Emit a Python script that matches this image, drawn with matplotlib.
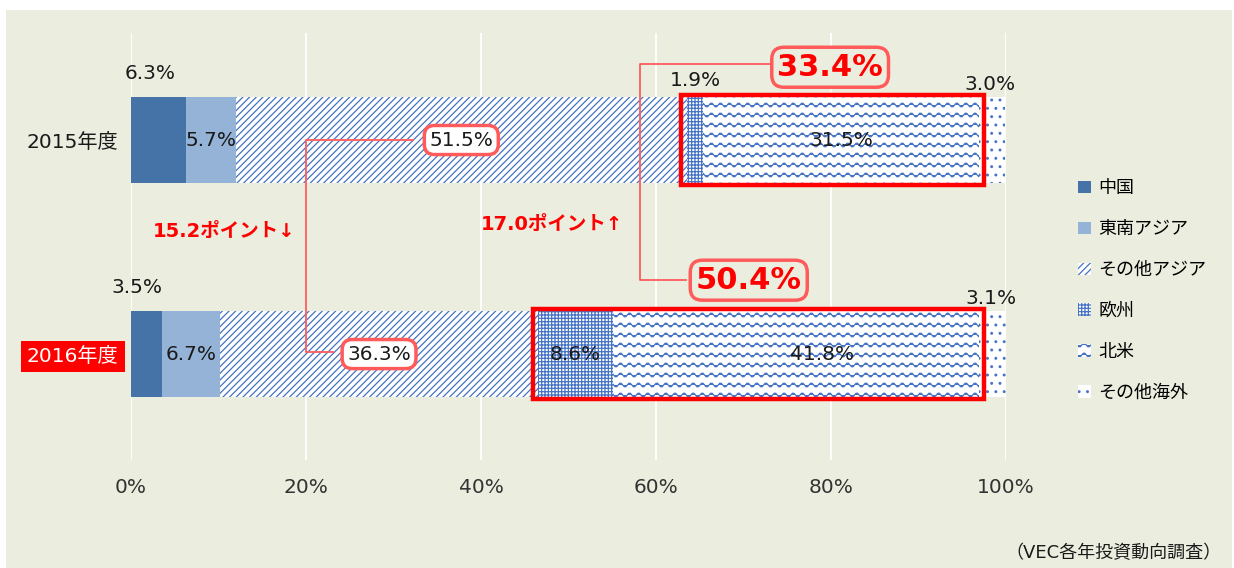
import warnings
import numpy as np
import matplotlib
matplotlib.use('Agg')
import matplotlib.pyplot as plt
import matplotlib.hatch as mhatch
from matplotlib.path import Path
from matplotlib.patches import Rectangle

warnings.filterwarnings('ignore')

regions = ['中国', '東南アジア', 'その他アジア', '欧州', '北米', 'その他海外']
years = ['2015年度', '2016年度']
share_2015 = [6.3, 5.7, 51.5, 1.9, 31.5, 3.0]
share_2016 = [3.5, 6.7, 36.3, 8.6, 41.8, 3.1]
diff_asia = '15.2ポイント↓'
diff_west = '17.0ポイント↑'
total_2015 = '33.4%'
total_2016 = '50.4%'
xticks = [0, 20, 40, 60, 80, 100]


# wavy hatch for 北米 ('~')
class WaveHatch(mhatch.HatchPatternBase):
    def __init__(self, hatch, density):
        self.num_lines = hatch.count('~') * 10
        self.npts = 67
        self.num_vertices = self.num_lines * self.npts

    def set_vertices_and_codes(self, vertices, codes):
        xs = np.linspace(0, 1, self.npts)
        for i in range(self.num_lines):
            s = slice(i * self.npts, (i + 1) * self.npts)
            vertices[s, 0] = xs
            vertices[s, 1] = (i + 0.5) / self.num_lines + 0.02 * np.sin(2 * np.pi * 11 * xs)
            codes[s] = Path.LINETO
            codes[i * self.npts] = Path.MOVETO


mhatch._hatch_types.append(WaveHatch)

plt.rcParams['font.family'] = ['DejaVu Sans', 'Noto Sans CJK JP']
plt.rcParams['hatch.linewidth'] = 0.9
plt.rcParams['hatch.color'] = '#4472C4'

bg = '#EBEEDF'
red = '#FF0000'
pink = '#FF5B5B'
colors = ['#4572A7', '#95B3D7', 'white', 'white', 'white', 'white']
hatches = [None, None, '/////', '+++++', '~', '..']

fig = plt.figure(figsize=(12.34, 5.68), dpi=100)
fig.patches.append(Rectangle((6 / 1234, 0), 1226 / 1234, 1 - 10 / 568,
                             transform=fig.transFigure, fc=bg, ec='none', zorder=-10))
ax = fig.add_axes([131 / 1234, 1 - 460 / 568, 875 / 1234, 427 / 568])
ax.set_facecolor('none')

ypos = np.arange(len(years))
data = np.array([share_2015, share_2016])
left = np.zeros(len(years))
for i, name in enumerate(regions):
    ax.barh(ypos, data[:, i], left=left, height=0.40, color=colors[i],
            hatch=hatches[i], edgecolor='#4472C4', linewidth=0, label=name, zorder=2)
    left += data[:, i]

ax.set_xlim(0, 100)
ax.set_ylim(1.495, -0.5)
ax.set_xticks(xticks)
ax.set_xticklabels([f'{t}%' for t in xticks], fontsize=14.5, color='#333333')
ax.set_yticks(ypos)
ax.set_yticklabels(years, fontsize=14.5, color='#1a1a1a')
ax.tick_params(length=0)
ax.tick_params(axis='x', pad=13)
ax.tick_params(axis='y', pad=9)
lab16 = ax.get_yticklabels()[1]
lab16.set_color('white')
lab16.set_bbox(dict(boxstyle='square,pad=0.3', fc=red, ec='none'))
ax.grid(axis='x', color='white', lw=1.3, zorder=0)
ax.set_axisbelow(True)
for s in ax.spines.values():
    s.set_visible(False)

# value labels
cum = np.cumsum(data, axis=1) - data
# (row, col): (dx, y) overrides for labels placed off-centre
moved = {(0, 0): (-1.0, -0.31), (0, 3): (0, -0.28), (0, 5): (-0.2, -0.26),
         (1, 0): (-1.1, 0.69), (1, 4): (3.0, 1.0), (1, 5): (-0.2, 0.74)}
boxed = {(0, 2), (1, 2)}
for r in range(2):
    for c in range(len(regions)):
        v = data[r, c]
        x = cum[r, c] + v / 2
        y = ypos[r]
        if (r, c) in moved:
            dx, y = moved[(r, c)]
            x += dx
        kw = {}
        if (r, c) in boxed:
            kw['bbox'] = dict(boxstyle='round,pad=0.25,rounding_size=0.5', fc='white', ec=pink, lw=2.5)
        ax.text(x, y, f'{v:.1f}%', ha='center', va='center', fontsize=14.5,
                color='#1a1a1a', zorder=5, **kw)

# red frames round 欧州+北米
for r in range(2):
    x0 = cum[r, 3] - 0.6
    w = data[r, 3] + data[r, 4] + 1.2
    ax.add_patch(Rectangle((x0, ypos[r] - 0.21), w, 0.42, fill=False, ec=red,
                           lw=3.2, zorder=4, clip_on=False))

# connector lines
ax.plot([32.2, 20.0, 20.0, 23.1], [0, 0, 0.99, 0.99], color=pink, lw=1.3, zorder=3, clip_on=False)
ax.plot([73.0, 58.2, 58.2, 63.4], [-0.355, -0.355, 0.654, 0.654], color=pink, lw=1.3, zorder=3, clip_on=False)

for txt, x, y in [(total_2015, 79.9, -0.34), (total_2016, 70.6, 0.655)]:
    ax.text(x, y, txt, ha='center', va='center', fontsize=22, fontweight='bold', color=red,
            zorder=6, bbox=dict(boxstyle='round,pad=0.18,rounding_size=0.4', fc=bg, ec=pink, lw=2.5))

ax.text(10.6, 0.425, diff_asia, ha='center', va='center', fontsize=14,
        fontweight='bold', color=red)
ax.text(48.1, 0.395, diff_west, ha='center', va='center', fontsize=14,
        fontweight='bold', color=red)

ax.legend(loc='upper left', bbox_to_anchor=(0.868, 0.697), bbox_transform=fig.transFigure,
          frameon=False, fontsize=13, handlelength=0.7, handleheight=0.7,
          handletextpad=0.4, labelspacing=1.27, borderaxespad=0)

fig.text(0.99, 0.027, '（VEC各年投資動向調査）', ha='right', va='center', fontsize=13, color='#1a1a1a')

fig.savefig('out.png', dpi=100)
